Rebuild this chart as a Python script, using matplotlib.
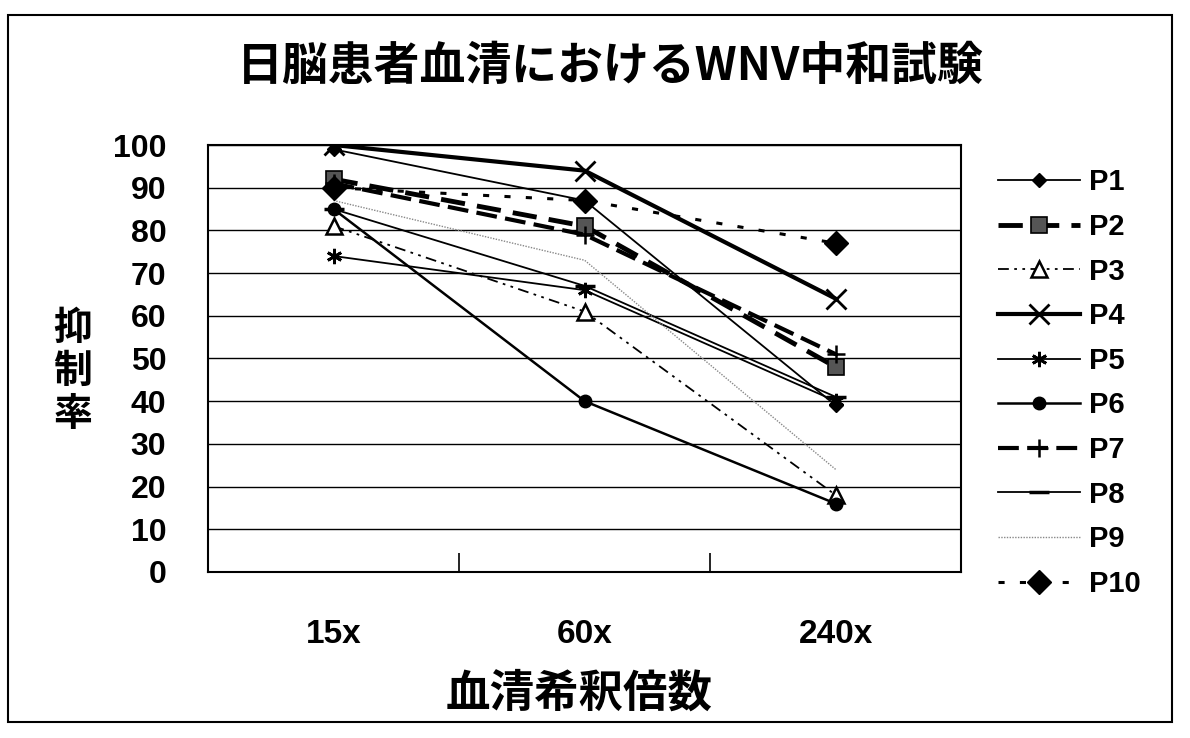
import matplotlib
matplotlib.use("Agg")
import matplotlib.pyplot as plt
from matplotlib.patches import Rectangle
from matplotlib.ticker import FixedLocator

JP = "Noto Sans CJK JP"
LAT = "Liberation Sans"

# data
categories = ["15x", "60x", "240x"]
names = ["P1", "P2", "P3", "P4", "P5", "P6", "P7", "P8", "P9", "P10"]
p1 = [99, 87, 39]
p2 = [92, 81, 48]
p3 = [81, 61, 18]
p4 = [100, 94, 64]
p5 = [74, 66, 40]
p6 = [85, 40, 16]
p7 = [91, 79, 51]
p8 = [85, 67, 41]
p9 = [87, 73, 24]
p10 = [90, 87, 77]
series = [p1, p2, p3, p4, p5, p6, p7, p8, p9, p10]
yticks = list(range(0, 101, 10))

# one style per patient, all black like the original print
styles = [
    dict(color="black", lw=1.3, ls="-", marker="D", ms=7, mfc="black", mec="black"),
    dict(color="black", lw=3.5, ls=(0, (5, 2.5)), marker="s", ms=12, mfc="#555555", mec="black", mew=1.2),
    dict(color="black", lw=1.3, ls=(0, (6, 3, 1.5, 3, 1.5, 3)), marker="^", ms=11, mfc="white", mec="black", mew=1.8),
    dict(color="black", lw=3.0, ls="-", marker="x", ms=15, mec="black", mew=2.0),
    dict(color="black", lw=1.3, ls="-", marker=(6, 2, 0), ms=11, mec="black", mew=2.0),
    dict(color="black", lw=1.8, ls="-", marker="o", ms=9, mfc="black", mec="black"),
    dict(color="black", lw=3.0, ls=(0, (5, 2)), marker="+", ms=13, mec="black", mew=1.8),
    dict(color="black", lw=1.3, ls="-", marker="_", ms=14, mec="black", mew=2.5),
    dict(color="#888888", lw=1.0, ls=(0, (1, 1)), marker=None),
    dict(color="black", lw=2.2, ls=(0, (2, 5)), marker="D", ms=12, mfc="black", mec="black"),
]

fig = plt.figure(figsize=(11.9, 7.38), dpi=100)
ax = fig.add_axes([0.1748, 0.225, 0.633, 0.5785])

x = list(range(len(categories)))
for name, vals, st in zip(names, series, styles):
    ax.plot(x, vals, label=name, **st)

ax.set_xlim(-0.5, 2.5)
ax.set_ylim(0, 100)
ax.set_yticks(yticks)
ax.set_yticklabels([str(v) for v in yticks], fontfamily=LAT, fontweight="bold", fontsize=23)
ax.set_xticks(x)
ax.set_xticklabels(categories, fontfamily=LAT, fontweight="bold", fontsize=24)
ax.xaxis.set_minor_locator(FixedLocator([0.5, 1.5]))
ax.tick_params(axis="x", which="major", length=0, pad=34)
ax.tick_params(axis="x", which="minor", direction="in", length=14, width=1.2)
ax.tick_params(axis="y", length=0, pad=30)
ax.grid(axis="y", color="black", lw=1.0)
ax.set_axisbelow(True)
for sp in ax.spines.values():
    sp.set_linewidth(1.5)

fig.text(0.513, 0.91, "日脳患者血清におけるWNV中和試験", ha="center", va="center",
         fontfamily=JP, fontweight="bold", fontsize=33)
fig.text(0.487, 0.06, "血清希釈倍数", ha="center", va="center",
         fontfamily=JP, fontweight="bold", fontsize=32)
for i, ch in enumerate("抑制率"):
    fig.text(0.061, 0.555 - i * 0.058, ch, ha="center", va="center",
             fontfamily=JP, fontweight="bold", fontsize=28)

leg = ax.legend(loc="upper left", bbox_to_anchor=(0.839, 0.772),
                bbox_transform=fig.transFigure, frameon=False,
                prop={"family": LAT, "weight": "bold", "size": 21},
                handlelength=2.8, handletextpad=0.3, labelspacing=0.57,
                borderaxespad=0, borderpad=0, numpoints=1)

fig.patches.append(Rectangle((0.0067, 0.0217), 0.978, 0.958, transform=fig.transFigure,
                             fill=False, edgecolor="black", lw=1.5))

fig.savefig("out.png", dpi=100, facecolor="white")
